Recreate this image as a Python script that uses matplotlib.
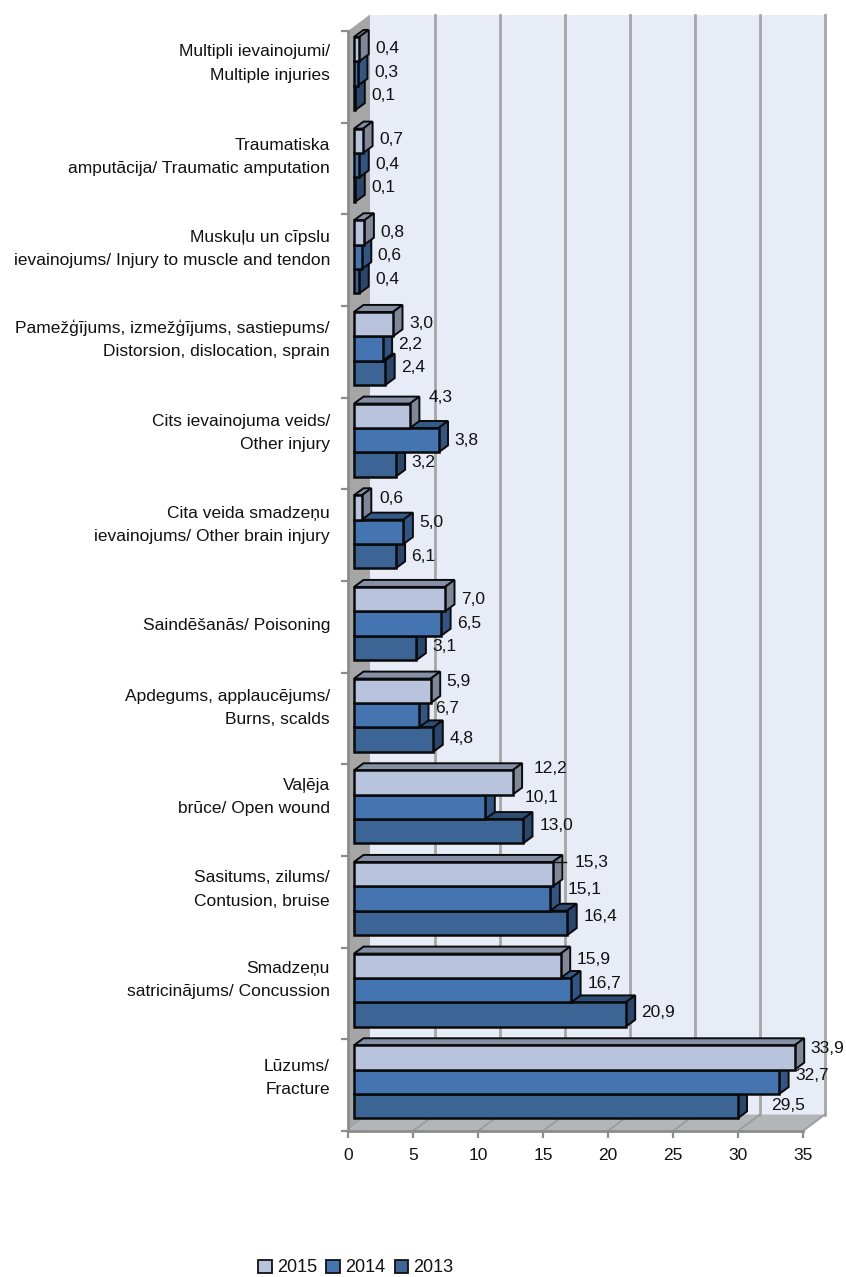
import matplotlib
matplotlib.use("Agg")
import matplotlib.pyplot as plt
from matplotlib.patches import Patch, Polygon
from matplotlib.transforms import ScaledTranslation

plt.rcParams['font.family'] = ['Liberation Sans', 'DejaVu Sans']

categories = [
    "Multipli ievainojumi/\nMultiple injuries",
    "Traumatiska\namputācija/ Traumatic amputation",
    "Muskuļu un cīpslu\nievainojums/ Injury to muscle and tendon",
    "Pamežģījums, izmežģījums, sastiepums/\nDistorsion, dislocation, sprain",
    "Cits ievainojuma veids/\nOther injury",
    "Cita veida smadzeņu\nievainojums/ Other brain injury",
    "Saindēšanās/ Poisoning",
    "Apdegums, applaucējums/\nBurns, scalds",
    "Vaļēja\nbrūce/ Open wound",
    "Sasitums, zilums/\nContusion, bruise",
    "Smadzeņu\nsatricinājums/ Concussion",
    "Lūzums/\nFracture",
]
series = ["2015", "2014", "2013"]
# bar lengths as drawn
bars_2015 = [0.4, 0.7, 0.8, 3.0, 4.3, 0.6, 7.0, 5.9, 12.2, 15.3, 15.9, 33.9]
bars_2014 = [0.3, 0.4, 0.6, 2.2, 6.5, 3.8, 6.7, 5.0, 10.1, 15.1, 16.7, 32.7]
bars_2013 = [0.1, 0.1, 0.4, 2.4, 3.2, 3.2, 4.8, 6.1, 13.0, 16.4, 20.9, 29.5]
# data labels as printed
labels_2015 = ["0,4", "0,7", "0,8", "3,0", "4,3", "0,6", "7,0", "5,9", "12,2", "15,3", "15,9", "33,9"]
labels_2014 = ["0,3", "0,4", "0,6", "2,2", "3,8", "5,0", "6,5", "6,7", "10,1", "15,1", "16,7", "32,7"]
labels_2013 = ["0,1", "0,1", "0,4", "2,4", "3,2", "6,1", "3,1", "4,8", "13,0", "16,4", "20,9", "29,5"]
x_ticks = [0, 5, 10, 15, 20, 25, 30, 35]

# hand-placed label nudges in pixels (right, down) relative to the default spot
nudge_x_2015 = [0, 0, 0, 0, 3, 2, 0, 0, 5, 6, 0, 0]
nudge_x_2014 = [0, 0, 0, 0, 0, 0, 0, 0, 23, 1, 1, 0]
nudge_x_2013 = [0, 0, 0, 0, 0, 0, 0, 0, 1, 0, -1, 18]
nudge_y_2015 = [-1, -1, 0, -1, -18, -9, 0, -9, -14, -12, -6, -9]
nudge_y_2014 = [-1, -1, -1, -4, 0, -9, 0, -7, -9, -9, -7, -6]
nudge_y_2013 = [-2, -2, -2, -5, -2, 0, -1, -1, -6, -6, -2, -1]
label_shift = [-19, -17, -17, -18, -16, -16, -3, -16, -19, -18, -19, -13]

W, H = 846, 1277
fig = plt.figure(figsize=(W / 100, H / 100), dpi=100, facecolor='white')
LEFT, RIGHT, TOP, BOTTOM = 348, 803, 31, 1131
ax = fig.add_axes([LEFT / W, (H - BOTTOM) / H, (RIGHT - LEFT) / W, (BOTTOM - TOP) / H])
ax.set_xlim(0, 35)
ax.set_ylim(len(categories) - 0.5, -0.5)
ax.patch.set_visible(False)
PX = 35 / (RIGHT - LEFT)
PY = len(categories) / (BOTTOM - TOP)
y_lo, y_hi = ax.get_ylim()
FS = 12.5

DX, DY = 22 * PX, 16.5 * PY
wall = '#a6a6a6'
ax.add_patch(Polygon([(DX, y_lo - DY), (35 + DX, y_lo - DY), (35 + DX, y_hi - DY), (DX, y_hi - DY)],
                     fc='#e8ecf6', ec='none', zorder=1, clip_on=False))
ax.add_patch(Polygon([(0, y_lo), (DX, y_lo - DY), (DX, y_hi - DY), (0, y_hi)],
                     fc=wall, ec='none', zorder=1.1, clip_on=False))
ax.add_patch(Polygon([(0, y_lo), (DX, y_lo - DY), (35 + DX, y_lo - DY), (35, y_lo)],
                     fc='#b3b5b8', ec='none', zorder=1.1, clip_on=False))
for t in x_ticks[1:]:
    ax.plot([t + DX, t + DX], [y_lo - DY, y_hi - DY], color=wall, lw=2, zorder=1.2, clip_on=False)
    ax.plot([t, t + DX], [y_lo, y_lo - DY], color='#9a9a9a', lw=1.2, zorder=1.2, clip_on=False)

front = ['#b8c4de', '#4575b0', '#3c6494']
side = ['#7f8799', '#335583', '#2a466a']
topc = ['#858fa6', '#345a8a', '#2c4d74']
bar_sets = [bars_2015, bars_2014, bars_2013]
label_sets = [labels_2015, labels_2014, labels_2013]
nx_sets = [nudge_x_2015, nudge_x_2014, nudge_x_2013]
ny_sets = [nudge_y_2015, nudge_y_2014, nudge_y_2013]

X0 = 6 * PX
BH = 24.4 * PY
BDX, BDY = 9.5 * PX, 7 * PY
GROUP = -3.3 * PY
for i in range(len(categories)):
    for j in (2, 1, 0):
        v = bar_sets[j][i]
        yc = i + GROUP + (j - 1) * BH
        z = 3 + i + (2 - j) * 0.2
        y0, y1 = yc - BH / 2, yc + BH / 2
        x1 = X0 + v
        ax.barh(yc, v, height=BH, left=X0, color=front[j], edgecolor='#0a0a0a', lw=1.8, zorder=z + 0.1)
        ax.add_patch(Polygon([(X0, y0), (X0 + BDX, y0 - BDY), (x1 + BDX, y0 - BDY), (x1, y0)],
                             fc=topc[j], ec='#0a0a0a', lw=1.4, zorder=z, clip_on=False))
        ax.add_patch(Polygon([(x1, y0), (x1 + BDX, y0 - BDY), (x1 + BDX, y1 - BDY), (x1, y1)],
                             fc=side[j], ec='#0a0a0a', lw=1.4, zorder=z, clip_on=False))
        off = ((16 + nx_sets[j][i]) * 0.72, -ny_sets[j][i] * 0.72)
        ax.annotate(label_sets[j][i], xy=(x1, yc), xytext=off, textcoords='offset points',
                    ha='left', va='center', fontsize=FS, color='#111111',
                    zorder=40, annotation_clip=False)
        if j == 0 and i == 9:
            ax.plot([x1, x1 + 13 * PX], [y0, y0], color='#111111', lw=1.0,
                    zorder=41, clip_on=False)

for s in ('top', 'right'):
    ax.spines[s].set_visible(False)
for s in ('left', 'bottom'):
    ax.spines[s].set_color('#8c8c8c')
    ax.spines[s].set_linewidth(2)
    ax.spines[s].set_zorder(2)

ax.set_xticks(x_ticks)
ax.set_xticklabels([str(t) for t in x_ticks], fontsize=FS, color='#111111')
ax.tick_params(axis='x', length=5, width=1.6, color='#8c8c8c', pad=7)

ax.set_yticks([k - 0.5 for k in range(len(categories) + 1)], minor=True)
ax.tick_params(axis='y', which='minor', length=5, width=1.6, color='#8c8c8c')
ax.set_yticks(range(len(categories)))
ax.set_yticklabels(categories, fontsize=FS, color='#111111', linespacing=1.7, ha='right')
ax.tick_params(axis='y', which='major', length=0, pad=13)
for lab, s in zip(ax.get_yticklabels(), label_shift):
    lab.set_transform(lab.get_transform() + ScaledTranslation(0, -s / 100, fig.dpi_scale_trans))

handles = [Patch(fc=front[j], ec='#111111', lw=1.3, label=series[j]) for j in range(3)]
fig.legend(handles=handles, loc='center', bbox_to_anchor=(356 / W, (H - 1268) / H), ncol=3, frameon=False,
           fontsize=13, handlelength=0.75, handleheight=0.75, handletextpad=0.3, columnspacing=0.5,
           labelcolor='#111111')

fig.savefig('out.png', dpi=100)
